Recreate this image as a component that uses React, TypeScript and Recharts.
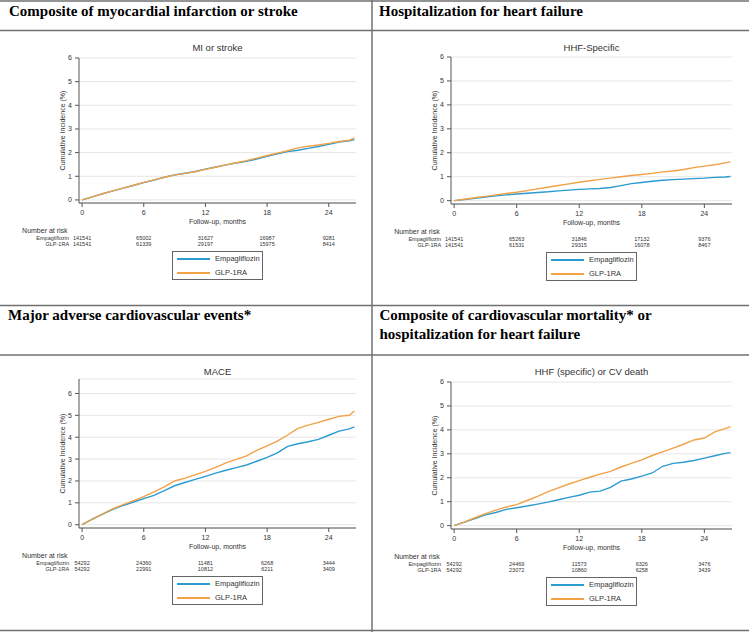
import React from 'react';
import { CartesianGrid, Line, LineChart, XAxis, YAxis } from 'recharts';

// follow-up time (months) shared by all four curves
const MONTHS = [0, 1, 2, 3, 4, 5, 6, 7, 8, 9, 10, 11, 12, 13, 14, 15, 16, 17, 18, 19, 20, 21, 22, 23, 24, 25, 26, 26.5];
const X_TICKS = [0, 6, 12, 18, 24];
const Y_TICKS = [0, 1, 2, 3, 4, 5, 6];

const MI_EMPA = [0, 0.13, 0.26, 0.38, 0.5, 0.61, 0.73, 0.84, 0.96, 1.06, 1.13, 1.2, 1.3, 1.39, 1.48, 1.56, 1.63, 1.73, 1.84, 1.95, 2.04, 2.1, 2.18, 2.26, 2.35, 2.45, 2.5, 2.55];
const MI_GLP = [0, 0.13, 0.26, 0.38, 0.5, 0.62, 0.74, 0.85, 0.96, 1.05, 1.12, 1.19, 1.29, 1.38, 1.48, 1.57, 1.66, 1.77, 1.88, 1.98, 2.08, 2.2, 2.27, 2.32, 2.39, 2.47, 2.52, 2.62];
const MI_RISK_EMPA = [141541, 65002, 31627, 16987, 9281];
const MI_RISK_GLP = [141541, 61339, 29197, 15975, 8414];

const HHF_EMPA = [0, 0.05, 0.1, 0.15, 0.2, 0.24, 0.28, 0.31, 0.34, 0.37, 0.41, 0.44, 0.47, 0.49, 0.51, 0.55, 0.63, 0.71, 0.76, 0.81, 0.85, 0.88, 0.9, 0.92, 0.94, 0.97, 0.99, 1.01];
const HHF_GLP = [0, 0.06, 0.12, 0.18, 0.24, 0.3, 0.35, 0.42, 0.49, 0.56, 0.63, 0.7, 0.77, 0.83, 0.89, 0.94, 1.0, 1.05, 1.09, 1.14, 1.2, 1.24, 1.3, 1.38, 1.44, 1.5, 1.58, 1.62];
const HHF_RISK_EMPA = [141541, 65263, 31846, 17132, 9376];
const HHF_RISK_GLP = [141541, 61531, 29315, 16078, 8467];

const MACE_EMPA = [0, 0.25, 0.48, 0.7, 0.88, 1.04, 1.19, 1.34, 1.56, 1.78, 1.93, 2.07, 2.21, 2.36, 2.49, 2.61, 2.73, 2.9, 3.08, 3.28, 3.58, 3.7, 3.79, 3.9, 4.09, 4.28, 4.38, 4.47];
const MACE_GLP = [0, 0.26, 0.5, 0.73, 0.92, 1.1, 1.28, 1.5, 1.73, 2.0, 2.13, 2.28, 2.44, 2.62, 2.83, 2.99, 3.15, 3.4, 3.6, 3.82, 4.1, 4.4, 4.55, 4.68, 4.82, 4.95, 5.0, 5.2];
const MACE_RISK_EMPA = [54292, 24360, 11481, 6268, 3444];
const MACE_RISK_GLP = [54292, 22991, 10812, 6211, 3409];

const CVD_EMPA = [0, 0.15, 0.3, 0.45, 0.55, 0.68, 0.75, 0.82, 0.9, 0.98, 1.08, 1.18, 1.27, 1.4, 1.44, 1.6, 1.86, 1.95, 2.07, 2.2, 2.48, 2.6, 2.65, 2.72, 2.82, 2.92, 3.02, 3.05];
const CVD_GLP = [0, 0.16, 0.33, 0.5, 0.65, 0.78, 0.88, 1.05, 1.22, 1.42, 1.58, 1.74, 1.88, 2.02, 2.15, 2.27, 2.45, 2.6, 2.75, 2.93, 3.08, 3.24, 3.4, 3.58, 3.66, 3.92, 4.05, 4.14];
const CVD_RISK_EMPA = [54292, 24469, 11573, 6326, 3476];
const CVD_RISK_GLP = [54292, 23072, 10860, 6258, 3439];

const BLUE = '#2b9bd0';
const ORANGE = '#f2a146';
const AXIS = '#555';
const TEXT = '#333';
const SANS = '"Liberation Sans", Arial, sans-serif';
const SERIF = '"Liberation Serif", "Times New Roman", serif';
const X_DOMAIN: [number, number] = [-0.3, 26.65];
const AXIS_H = 22;
const RISK_H = 25;

type PanelProps = {
  left: number;
  top: number;
  width: number;
  yAxisWidth: number;
  marginRight: number;
  marginTop: number;
  plotHeight: number;
  yDomain: [number, number];
  name: string;
  empa: number[];
  glp: number[];
  riskEmpa: number[];
  riskGlp: number[];
};

function Panel(p: PanelProps) {
  const rows = MONTHS.map((t, i) => ({ t, empa: p.empa[i], glp: p.glp[i] }));
  const height = p.marginTop + p.plotHeight + AXIS_H + RISK_H + 2;
  const cx = (p.yAxisWidth + p.width - p.marginRight) / 2;
  const plotBottom = p.marginTop + p.plotHeight;

  // number-at-risk table drawn as ticks of a second x axis
  const riskTick = (props: any) => {
    const { x, y, payload } = props;
    const i = X_TICKS.indexOf(payload.value);
    if (i < 0) return <g />;
    return (
      <g fontFamily={SANS} fill={TEXT}>
        {i === 0 && (
          <>
            <text x={x - 60} y={y + 7.5} fontSize={7}>Number at risk</text>
            <text x={x - 13} y={y + 15} fontSize={5.5} textAnchor="end">Empagliflozin</text>
            <text x={x - 13} y={y + 21} fontSize={5.5} textAnchor="end">GLP-1RA</text>
          </>
        )}
        <text x={x} y={y + 15} fontSize={5.5} textAnchor="middle">{p.riskEmpa[i]}</text>
        <text x={x} y={y + 21} fontSize={5.5} textAnchor="middle">{p.riskGlp[i]}</text>
      </g>
    );
  };

  return (
    <div style={{ position: 'absolute', left: p.left, top: p.top, width: p.width, height: 275 }}>
      <div
        style={{
          position: 'absolute', left: cx - 120, width: 240, top: 11, textAlign: 'center',
          fontFamily: SANS, fontSize: 9.5, lineHeight: '12px', color: TEXT,
        }}
      >
        {p.name}
      </div>
      <LineChart
        width={p.width}
        height={height}
        data={rows}
        margin={{ top: p.marginTop, right: p.marginRight, left: 0, bottom: 2 }}
        style={{ position: 'absolute', left: 0, top: 0 }}
      >
        <CartesianGrid vertical={false} stroke="#e6e6e6" />
        <XAxis
          type="number"
          dataKey="t"
          domain={X_DOMAIN}
          ticks={X_TICKS}
          interval={0}
          allowDataOverflow
          height={AXIS_H}
          tickSize={4}
          tickMargin={3}
          axisLine={{ stroke: AXIS }}
          tickLine={{ stroke: AXIS }}
          tick={{ fontSize: 7, fill: TEXT, fontFamily: SANS }}
          label={{ value: 'Follow-up, months', position: 'insideBottom', offset: 1.5, fontSize: 7, fill: TEXT, fontFamily: SANS }}
        />
        <XAxis
          xAxisId="risk"
          type="number"
          dataKey="t"
          domain={X_DOMAIN}
          ticks={X_TICKS}
          interval={0}
          allowDataOverflow
          height={RISK_H}
          axisLine={false}
          tickLine={false}
          tickSize={0}
          tickMargin={0}
          tick={riskTick}
        />
        <YAxis
          type="number"
          domain={p.yDomain}
          ticks={Y_TICKS}
          interval={0}
          allowDataOverflow
          width={p.yAxisWidth}
          tickSize={4}
          tickMargin={3}
          axisLine={{ stroke: AXIS }}
          tickLine={{ stroke: AXIS }}
          tick={{ fontSize: 7, fill: TEXT, fontFamily: SANS }}
          label={{
            value: 'Cumulative Incidence (%)', angle: -90, position: 'insideLeft',
            offset: p.yAxisWidth - 16, fontSize: 7, fill: TEXT, fontFamily: SANS,
            style: { textAnchor: 'middle' },
          }}
        />
        <Line dataKey="empa" stroke={BLUE} strokeWidth={1.4} dot={false} type="linear" isAnimationActive={false} />
        <Line dataKey="glp" stroke={ORANGE} strokeWidth={1.4} dot={false} type="linear" isAnimationActive={false} />
      </LineChart>
      <div
        style={{
          position: 'absolute', left: cx - 45.5, top: plotBottom + 48, width: 91, height: 29,
          border: '1px solid #666', boxSizing: 'border-box', fontFamily: SANS, fontSize: 7.5, color: TEXT,
        }}
      >
        {[
          { label: 'Empagliflozin', color: BLUE, y: 7 },
          { label: 'GLP-1RA', color: ORANGE, y: 21 },
        ].map((s) => (
          <React.Fragment key={s.label}>
            <div style={{ position: 'absolute', left: 4, top: s.y - 1, width: 33, height: 1.5, background: s.color }} />
            <div style={{ position: 'absolute', left: 42, top: s.y - 5, lineHeight: '10px' }}>{s.label}</div>
          </React.Fragment>
        ))}
      </div>
    </div>
  );
}

export default function App() {
  const line = '#707070';
  return (
    <div style={{ position: 'absolute', left: 0, top: 0, width: 749, height: 632, background: '#fff', overflow: 'hidden' }}>
      <svg width={749} height={632} style={{ position: 'absolute', left: 0, top: 0 }}>
        <g stroke={line} strokeWidth={1.5}>
          <line x1={0} x2={749} y1={1} y2={1} />
          <line x1={0} x2={749} y1={30.5} y2={30.5} />
          <line x1={0} x2={749} y1={305.5} y2={305.5} />
          <line x1={0} x2={749} y1={355} y2={355} />
          <line x1={0} x2={749} y1={630.5} y2={630.5} />
          <line x1={372} x2={372} y1={0} y2={632} />
        </g>
        <g fontFamily={SERIF} fontWeight="bold" fontSize={15} fill="#000">
          <text x={9} y={16}>Composite of myocardial infarction or stroke</text>
          <text x={379} y={16}>Hospitalization for heart failure</text>
          <text x={8} y={320}>Major adverse cardiovascular events*</text>
          <text x={379.5} y={320}>Composite of cardiovascular mortality* or</text>
          <text x={379.5} y={339}>hospitalization for heart failure</text>
        </g>
      </svg>
      <Panel
        left={0} top={31} width={372} yAxisWidth={79} marginRight={16} marginTop={27} plotHeight={145}
        yDomain={[-0.13, 6]} name="MI or stroke" empa={MI_EMPA} glp={MI_GLP}
        riskEmpa={MI_RISK_EMPA} riskGlp={MI_RISK_GLP}
      />
      <Panel
        left={373} top={31} width={376} yAxisWidth={78} marginRight={17} marginTop={26} plotHeight={147}
        yDomain={[-0.14, 6]} name="HHF-Specific" empa={HHF_EMPA} glp={HHF_GLP}
        riskEmpa={HHF_RISK_EMPA} riskGlp={HHF_RISK_GLP}
      />
      <Panel
        left={0} top={355} width={372} yAxisWidth={79} marginRight={16} marginTop={24} plotHeight={149}
        yDomain={[-0.15, 6.66]} name="MACE" empa={MACE_EMPA} glp={MACE_GLP}
        riskEmpa={MACE_RISK_EMPA} riskGlp={MACE_RISK_GLP}
      />
      <Panel
        left={373} top={355} width={376} yAxisWidth={78} marginRight={17} marginTop={27} plotHeight={147}
        yDomain={[-0.14, 6]} name="HHF (specific) or CV death" empa={CVD_EMPA} glp={CVD_GLP}
        riskEmpa={CVD_RISK_EMPA} riskGlp={CVD_RISK_GLP}
      />
    </div>
  );
}
